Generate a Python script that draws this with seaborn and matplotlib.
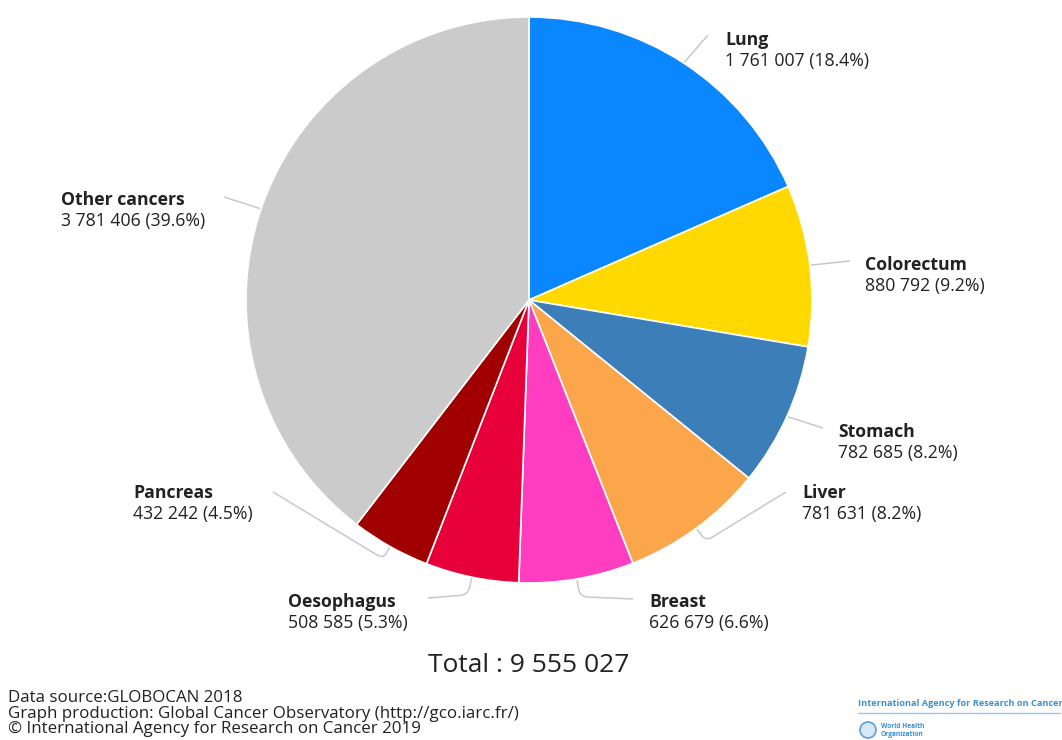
import numpy as np
import matplotlib
matplotlib.use("Agg")
import matplotlib.pyplot as plt
from matplotlib.path import Path
from matplotlib.patches import PathPatch, Circle
import seaborn as sns

# ---- data ----
categories = ["Lung", "Colorectum", "Stomach", "Liver", "Breast",
              "Oesophagus", "Pancreas", "Other cancers"]
deaths = [1761007, 880792, 782685, 781631, 626679, 508585, 432242, 3781406]
percents = [18.4, 9.2, 8.2, 8.2, 6.6, 5.3, 4.5, 39.6]
total = 9555027
colors = ["#0A86FF", "#FFD900", "#3B7EB8", "#FBA64B", "#FF3DC0",
          "#E8003B", "#A00000", "#CBCBCB"]

sns.set_theme(style="white")
plt.rcParams["font.family"] = ["Open Sans", "DejaVu Sans"]

W, H = 1062, 740
fig = plt.figure(figsize=(W / 100, H / 100), dpi=100)
ax = fig.add_axes([0, 0, 1, 1])
ax.set_xlim(0, W)
ax.set_ylim(0, H)
ax.set_aspect("equal")
ax.axis("off")

def Y(y):
    return H - y

cx, cy, R = 529, Y(300), 283
wedges, _ = ax.pie(deaths, colors=sns.color_palette(colors), startangle=90,
                   counterclock=False, center=(cx, cy), radius=R,
                   wedgeprops=dict(edgecolor="white", linewidth=1.2))
ax.set_xlim(0, W)
ax.set_ylim(0, H)

def fmt(n):
    return f"{n:,}".replace(",", " ")

# layout: (text left x, bold y, line end x, line end y, radial extension)
layout = {
    "Lung": (725, 40, 708, 35, 0),
    "Colorectum": (865, 265, 850, 261, 0),
    "Stomach": (838, 432, 823, 428, 0),
    "Liver": (802, 493, 786, 492, 16),
    "Breast": (649, 602, 633, 599, 18),
    "Oesophagus": (288, 602, 428, 598, 18),
    "Pancreas": (133, 493, 273, 492, 14),
    "Other cancers": (61, 200, 224, 197, 0),
}

for w, name, val, pct in zip(wedges, categories, deaths, percents):
    tx, ty, ex, ey, ext = layout[name]
    a = np.deg2rad((w.theta1 + w.theta2) / 2)
    d = np.array([np.cos(a), np.sin(a)])
    p0 = np.array([cx, cy]) + d * (R + 1)
    p2 = np.array([ex, Y(ey)])
    if ext > 0:
        p1 = np.array([cx, cy]) + d * (R + ext)
        pa = p0 + (p1 - p0) * 0.55
        v = p2 - p1
        pb = p1 + v / np.linalg.norm(v) * 8
        verts = [p0, pa, p1, pb, p2]
        codes = [Path.MOVETO, Path.LINETO, Path.CURVE3, Path.CURVE3, Path.LINETO]
    else:
        verts = [p0, p2]
        codes = [Path.MOVETO, Path.LINETO]
    ax.add_patch(PathPatch(Path(verts, codes), fill=False,
                           edgecolor="#c9c9c9", linewidth=1.1))
    ax.text(tx, Y(ty), name, fontsize=12.7, fontweight="bold",
            color="#222222", ha="left", va="center")
    ax.text(tx, Y(ty + 21), f"{fmt(val)} ({pct}%)", fontsize=12.7,
            color="#222222", ha="left", va="center")

ax.text(529, Y(665), f"Total : {fmt(total)}", fontsize=19, color="#222222",
        ha="center", va="center")

footer = ["Data source:GLOBOCAN 2018",
          "Graph production: Global Cancer Observatory (http://gco.iarc.fr/)",
          "\u00a9 International Agency for Research on Cancer 2019"]
for i, line in enumerate(footer):
    ax.text(8, Y(698 + 15.5 * i), line, fontsize=12.2, color="#222222",
            ha="left", va="center")

# logo
ax.text(858, Y(703), "International Agency for Research on Cancer", fontsize=6.6,
        color="#3C8FD8", ha="left", va="center", fontweight="bold")
ax.plot([858, 1060], [Y(713), Y(713)], color="#9cc6ea", linewidth=1)
ax.add_patch(Circle((868, Y(730)), 8, facecolor="#d6e8f7", edgecolor="#5aa0dc",
                    linewidth=1.2))
ax.text(881, Y(727), "World Health", fontsize=4.8, color="#3C8FD8",
        ha="left", va="center", fontweight="bold")
ax.text(881, Y(735), "Organization", fontsize=4.8, color="#3C8FD8",
        ha="left", va="center", fontweight="bold")

fig.savefig("out.png", dpi=100, facecolor="white")
